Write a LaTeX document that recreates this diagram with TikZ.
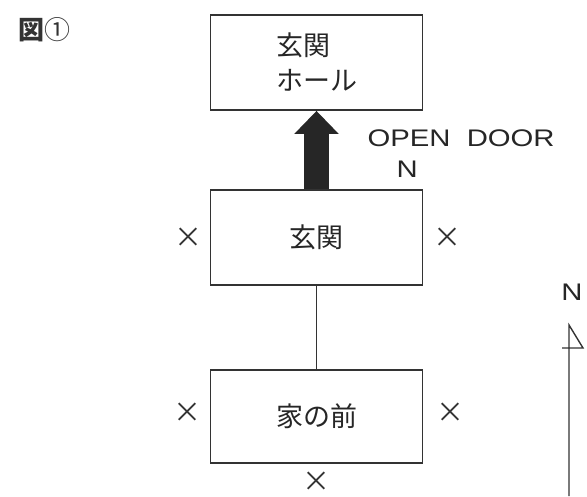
\documentclass[tikz,border=0pt]{standalone}
\usepackage{fontspec}
\setmainfont{Noto Sans CJK JP}
\newfontfamily\latin[FakeStretch=1.22]{Liberation Sans}
\usepackage{tikz}
\usetikzlibrary{arrows.meta, positioning}

\begin{document}
\begin{tikzpicture} [x=1pt, y=1pt, node distance = 175pt, on grid, auto,
  room/.style = {rectangle, draw=black!80, line width=1.8pt, minimum width=212pt,
                 minimum height=95pt, text=black!85, font=\fontsize{27}{35}\selectfont},
  cross/.style = {text=black!80, font=\fontsize{28}{28}\selectfont},
  tag/.style = {text=black!85, font=\latin\fontsize{24}{24}\selectfont}]
\useasboundingbox (0,0) rectangle (587,496);

\node (t) [text=black!80, font=\fontsize{26}{26}\selectfont] at (44,466) {{\bfseries 図}①};

\node (0) [room, align=left] at (316.5,433.5) {玄関\\ホール};
\node (1) [room, below = of 0] {玄関};
\node (2) [room, minimum height=93pt, below = 179pt of 1] {家の前};

\node (3) [cross, left = 128pt of 1] {×};
\node (4) [cross, right = 131pt of 1] {×};
\node (5) [cross, above left = 3.5pt and 129pt of 2] {×};
\node (6) [cross, above right = 3.5pt and 134pt of 2] {×};
\node (7) [cross, below = 65.5pt of 2] {×};

\node (8) [tag, above right = 8pt and 76.5pt of 1.north] {N};
\node (9) [tag, above right = 31pt and 54pt of 8] {OPEN\ \ DOOR};

% compass
\coordinate (10) at (569,0);
\coordinate (11) at (569,171);
\node (12) [tag, above = 21pt of 11, xshift=3pt] {N};

\draw [black!85, line width=25pt, -{Triangle[length=23pt, width=43pt]}] (1) -- (0);
\draw [black!80, line width=1.4pt] (1) -- (2);
\draw [black!80, line width=1.4pt] (10) -- (11) -- ++(14,-23) -- ++(-21,0);
\end{tikzpicture}
\end{document}
